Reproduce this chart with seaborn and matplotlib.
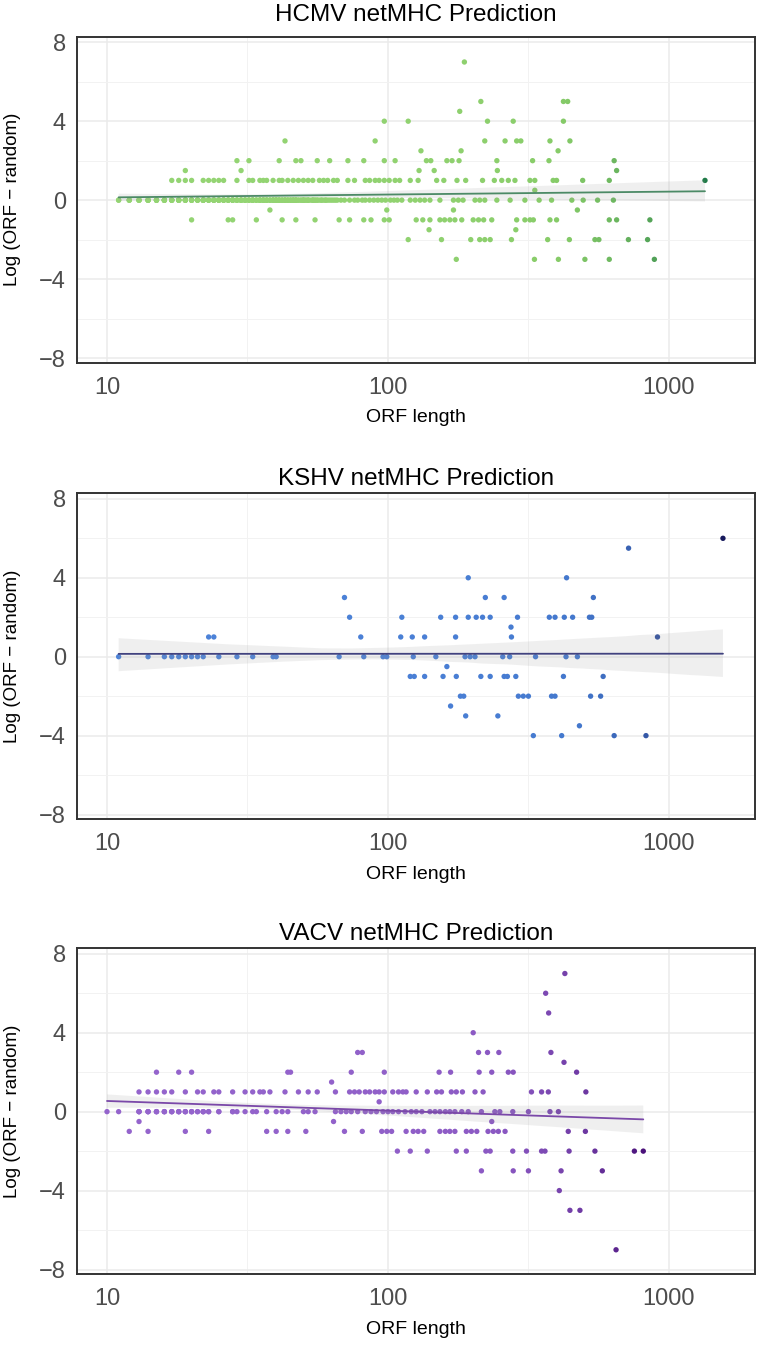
import numpy as np
import pandas as pd
import matplotlib
matplotlib.use("Agg")
import matplotlib.pyplot as plt
from matplotlib.colors import LinearSegmentedColormap
from matplotlib.ticker import FixedLocator, FixedFormatter, NullFormatter
import seaborn as sns

# ---------------- data ----------------
titles = ["HCMV netMHC Prediction", "KSHV netMHC Prediction", "VACV netMHC Prediction"]

hcmv_levels = [7, 5, 4.5, 4, 3, 2.5, 2, 1.5, 1, 0.5, 0, 0, 0, -0.5, -1, -1.5, -2, -3]
hcmv_lengths = [
    [187],
    [214, 421, 436],
    [180],
    [97, 118, 226, 279, 421],
    [43, 90, 221, 261, 287, 297, 377, 444],
    [131, 182, 403],
    [29, 32, 41, 47, 49, 56, 62, 72, 82, 97, 106, 137, 142, 162, 169, 179, 244, 327, 374, 638],
    [19, 30, 129, 146, 245, 651],
    [17, 18, 19, 20, 22, 23, 24, 25, 26, 29, 32, 33, 35, 36, 37, 39, 41, 42, 44, 46, 48, 50,
     52, 54, 57, 59, 61, 64, 66, 72, 76, 83, 86, 90, 93, 97, 101, 106, 110, 120, 128, 149,
     158, 176, 189, 217, 239, 254, 268, 283, 320, 333, 387, 398, 493, 613, 1343],
    [333],
    [11, 12, 13, 14, 15, 16, 17, 18, 19, 20, 21, 22, 23, 24, 25, 26, 27, 28, 29, 30, 31, 32,
     33, 35, 36, 37, 39, 40, 41, 43, 44, 46, 47, 49, 50, 52, 54, 55, 57, 59, 61, 63, 65, 73,
     76, 78, 81, 83, 86, 89, 92, 95, 98, 102, 105, 108, 112, 120, 125, 130, 135, 141, 153,
     171, 178, 185, 204, 212, 221, 244, 272, 307, 345, 382, 451, 495, 557, 634],
    # overlapping marks hidden inside the dense zero band (short ORFs)
    [15, 16, 17, 18, 19, 20, 21, 22, 23, 24, 25, 26, 27, 28, 29, 30, 31, 32, 33, 34, 35, 36,
     37, 38, 39, 40, 41, 42, 43, 44, 45, 46, 47, 48, 49, 50, 51, 52, 53, 54, 55, 56, 58, 60,
     62, 64, 66, 68, 70, 20, 22, 24, 26, 28, 30, 32, 34, 36, 38, 40, 45, 50],
    [11, 12, 13, 14, 15, 16, 17, 18, 19, 20, 21, 22, 23, 24, 25, 26, 27, 28, 29, 30, 31, 32,
     33, 34, 35, 36, 37, 38, 39, 40, 41, 42, 43, 44, 45, 46, 47, 48, 50, 52, 54, 56, 58, 60,
     12, 13, 14, 15, 16, 17, 18, 19, 21, 23, 25, 27, 29, 31, 33, 35, 37, 39, 41, 43, 47, 51,
     13, 14, 15, 16, 17, 18, 19, 20, 22, 24, 26, 28, 30, 33, 36, 39, 42, 46, 14, 16, 18, 20,
     22, 25, 28, 31, 35, 40],
    [38, 99, 171, 472],
    [20, 27, 28, 34, 42, 47, 55, 67, 73, 82, 87, 97, 101, 126, 133, 141, 153, 159, 166, 173,
     183, 201, 210, 219, 234, 287, 307, 320, 329, 377, 398, 613, 651, 855],
    [140, 285],
    [118, 155, 197, 212, 221, 231, 275, 370, 442, 545, 563, 717, 839],
    [175, 332, 404, 502, 613, 887],
]

kshv_levels = [6, 5.5, 4, 3, 2, 1.5, 1, 0, -0.5, -1, -2, -2.5, -3, -3.5, -4]
kshv_lengths = [
    [1556],
    [718],
    [193, 432],
    [70, 222, 259, 538],
    [73, 112, 154, 174, 193, 206, 217, 231, 289, 375, 393, 424, 454, 521, 531],
    [274],
    [23, 24, 80, 111, 122, 135, 174, 275, 910],
    [11, 14, 16, 17, 18, 19, 20, 21, 22, 25, 29, 33, 39, 40, 67, 82, 96, 99, 123, 148, 188,
     196, 204, 256, 271, 335, 430, 472],
    [162],
    [120, 124, 135, 157, 175, 214, 231, 259, 266, 285, 421, 583],
    [181, 186, 291, 303, 316, 382, 393, 526, 571],
    [167],
    [189, 246],
    [480],
    [329, 415, 638, 828],
]

vacv_levels = [7, 6, 5, 4, 3, 2.5, 2, 1.5, 1, 0.5, 0, 0, -0.5, -1, -2, -3, -4, -5, -7]
vacv_lengths = [
    [426],
    [364],
    [373],
    [201],
    [78, 81, 210, 226, 248, 380],
    [423],
    [15, 18, 20, 44, 45, 74, 97, 152, 167, 211, 234, 268, 279, 469],
    [63],
    [13, 14, 15, 16, 17, 19, 21, 22, 24, 25, 28, 31, 33, 35, 36, 38, 43, 48, 52, 56, 65, 73,
     76, 79, 83, 86, 90, 93, 97, 104, 109, 113, 116, 126, 138, 149, 155, 168, 175, 184, 204,
     218, 324, 352, 372, 506],
    [93],
    [10, 11, 13, 14, 15, 16, 17, 18, 19, 20, 21, 22, 23, 25, 28, 29, 31, 33, 34, 37, 40, 42,
     44, 50, 52, 55, 65, 68, 71, 74, 78, 83, 87, 91, 96, 100, 104, 109, 115, 121, 126, 132,
     141, 147, 153, 160, 166, 173, 183, 193, 215, 240, 250, 278, 316, 377, 404],
    # overlapping marks hidden inside the dense zero band (short ORFs)
    [13, 14, 15, 16, 17, 18, 19, 20, 21, 22, 23, 25, 13, 14, 15, 16, 17, 18, 19, 20, 22, 28],
    [13, 64, 234],
    [12, 14, 19, 23, 37, 40, 44, 51, 70, 81, 95, 99, 103, 116, 123, 128, 134, 153, 160, 166,
     173, 190, 198, 207, 227, 237, 247, 261, 438, 504],
    [108, 120, 138, 175, 190, 223, 231, 278, 311, 352, 362, 441, 545, 753, 810],
    [215, 279, 316, 413, 579],
    [407],
    [444, 482],
    [648],
]

x_ticks = [10, 100, 1000]
x_tick_labels = ["10", "100", "1000"]
y_ticks = [-8, -4, 0, 4, 8]

# ---------------- styling ----------------
point_colors = [("#94D473", "#86CB68", "#1F7A47"),
                ("#4C82D8", "#4377CC", "#16195C"),
                ("#9464CC", "#8A58C2", "#4A117A")]
line_colors = ["#4C8A66", "#41427F", "#7A48A8"]
title_pads = [11, 6, 6]

sns.set_style("white")
plt.rcParams["font.family"] = ["Liberation Sans", "DejaVu Sans"]

fig = plt.figure(figsize=(7.6, 13.46), dpi=100)
bottoms = [0.7305, 0.3913, 0.0533]

datasets = [(hcmv_levels, hcmv_lengths), (kshv_levels, kshv_lengths), (vacv_levels, vacv_lengths)]

for i, ((levels, lengths), title) in enumerate(zip(datasets, titles)):
    ax = fig.add_axes([0.1013, bottoms[i], 0.8921, 0.2422])
    L = [l for lv, ls in zip(levels, lengths) for l in ls]
    V = [lv for lv, ls in zip(levels, lengths) for l in ls]
    df = pd.DataFrame({"len": L, "val": V})
    ax.set_xscale("log")

    c0, c1, c2 = point_colors[i]
    cmap = LinearSegmentedColormap.from_list("p%d" % i, [(0, c0), (0.3, c1), (1, c2)])
    sns.scatterplot(data=df, x="len", y="val", hue="len", palette=cmap,
                    hue_norm=(df["len"].min(), df["len"].max()), s=15, linewidth=0,
                    legend=False, ax=ax, zorder=2)
    n_before = len(ax.collections)
    sns.regplot(data=df, x="len", y="val", logx=True, scatter=False, ax=ax,
                color=line_colors[i], n_boot=1000, seed=3,
                line_kws=dict(lw=1.3, zorder=4))
    for coll in ax.collections[n_before:]:
        coll.set_facecolor((0.6, 0.6, 0.6, 0.28))
        coll.set_edgecolor("none")
        coll.set_zorder(3)

    ax.set_xlim(7.82, 2023)
    ax.set_ylim(-8.24, 8.28)
    ax.xaxis.set_major_locator(FixedLocator(x_ticks))
    ax.xaxis.set_major_formatter(FixedFormatter(x_tick_labels))
    ax.xaxis.set_minor_locator(FixedLocator([10 ** 1.5, 10 ** 2.5]))
    ax.xaxis.set_minor_formatter(NullFormatter())
    ax.set_yticks(y_ticks)
    ax.set_yticks([-6, -2, 2, 6], minor=True)
    ax.tick_params(which="minor", length=0)
    ax.tick_params(which="major", length=4, width=1.1, color="#333333",
                   labelsize=17, labelcolor="#4D4D4D", direction="out")
    ax.tick_params(axis="x", which="major", pad=6)
    ax.tick_params(axis="y", which="major", pad=4)
    ax.grid(True, which="major", color="#EBEBEB", lw=1.1)
    ax.grid(True, which="minor", color="#F2F2F2", lw=0.7)
    ax.set_axisbelow(True)
    for sp in ax.spines.values():
        sp.set_visible(True)
        sp.set_color("#333333")
        sp.set_linewidth(1.4)

    ax.set_xlabel("ORF length", fontsize=14, color="black", va="top")
    ax.xaxis.set_label_coords(0.5, -0.143)
    ax.set_ylabel("Log (ORF \u2212 random)", fontsize=13.5, color="black")
    ax.yaxis.set_label_coords(-0.083, 0.5)
    ax.set_title(title, fontsize=17.5, color="black", pad=title_pads[i])

fig.savefig("out.png", dpi=100, facecolor="white")
